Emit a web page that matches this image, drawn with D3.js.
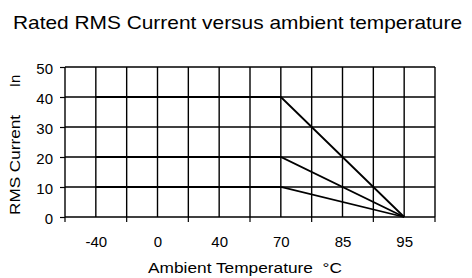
<!DOCTYPE html>
<html><head><meta charset="utf-8">
<script src="https://cdn.jsdelivr.net/npm/d3@7"></script>
<style>body{margin:0;background:#fff}svg{display:block;font-family:"Liberation Sans",Arial,sans-serif}</style>
</head><body>
<script>
const categories = ["-40","0","40","70","85","95"];
const yTicks = [0,10,20,30,40,50];
const seriesX = ["-40","70","95"];
const series40 = [40,40,0];
const series20 = [20,20,0];
const series10 = [10,10,0];

const W=472,H=278;
const L=65,R=435,T=67,B=217;
const svg=d3.select("body").append("svg").attr("width",W).attr("height",H);
const x=d3.scalePoint().domain(categories).range([L,R]).padding(0.5);
const y=d3.scaleLinear().domain([0,50]).range([B,T]);
const half=x.step()/2;

const g=svg.append("g");
const vlines=d3.range(0,categories.length*2+1).map(i=>L+i*half);
g.selectAll(".v").data(vlines).join("line")
 .attr("x1",d=>d).attr("x2",d=>d).attr("y1",T).attr("y2",B)
 .attr("stroke","#000").attr("stroke-width",1.4);
g.selectAll(".h").data(yTicks).join("line")
 .attr("x1",L).attr("x2",R).attr("y1",d=>y(d)).attr("y2",d=>y(d))
 .attr("stroke","#000").attr("stroke-width",1.4);

const yAxis=d3.axisLeft(y).tickValues(yTicks).tickSize(5).tickSizeOuter(0).tickPadding(7);
const ya=svg.append("g").attr("transform",`translate(${L},0)`).call(yAxis);
ya.select(".domain").remove();
ya.selectAll(".tick line").attr("stroke","#000").attr("stroke-width",1.2);
ya.selectAll("text").attr("font-size",15).attr("fill","#000").attr("dy","0.4em").attr("font-family","Liberation Sans, Arial, sans-serif");

const bt=d3.range(0,categories.length*2+1,2).map(i=>L+i*half);
svg.selectAll(".bt").data(bt).join("line")
 .attr("x1",d=>d).attr("x2",d=>d).attr("y1",B).attr("y2",B+5)
 .attr("stroke","#000").attr("stroke-width",1.2);
const xAxis=d3.axisBottom(x).tickSize(0).tickPadding(19);
const xa=svg.append("g").attr("transform",`translate(0,${B})`).call(xAxis);
xa.select(".domain").remove();
xa.selectAll("text").attr("font-size",15).attr("fill","#000").attr("font-family","Liberation Sans, Arial, sans-serif");

const line=d3.line().x((d,i)=>x(seriesX[i])).y(d=>y(d));
[series40,series20,series10].forEach(s=>{
  svg.append("path").datum(s).attr("d",line).attr("fill","none")
   .attr("stroke","#000").attr("stroke-width",1.8);
});

svg.append("text").attr("x",237.5).attr("y",28.5).attr("text-anchor","middle")
 .attr("font-size",18.5).attr("fill","#000")
 .attr("textLength",449).attr("lengthAdjust","spacingAndGlyphs")
 .text("Rated RMS Current versus ambient temperature");
svg.append("text").attr("x",245).attr("y",273).attr("text-anchor","middle")
 .attr("font-size",15).attr("fill","#000").attr("xml:space","preserve")
 .attr("textLength",194).attr("lengthAdjust","spacingAndGlyphs")
 .text("Ambient Temperature  °C");
svg.append("text").attr("transform","translate(19.5,165) rotate(-90)").attr("text-anchor","middle")
 .attr("font-size",15).attr("fill","#000")
 .attr("textLength",100).attr("lengthAdjust","spacingAndGlyphs").text("RMS Current");
svg.append("text").attr("transform","translate(19.5,81) rotate(-90)").attr("text-anchor","middle")
 .attr("font-size",15).attr("fill","#000").text("In");
</script>
</body></html>
